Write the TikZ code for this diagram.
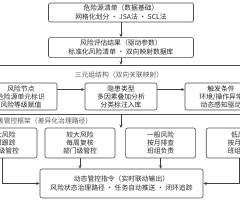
\documentclass[tikz,border=0pt]{standalone}
\usepackage{fontspec}
\setmainfont{Noto Sans CJK SC}
\usetikzlibrary{arrows.meta, positioning}

\begin{document}
\begin{tikzpicture}[
  x=1pt, y=-1pt,
  node distance=10pt,
  box/.style={rectangle, draw=black!70, rounded corners=2pt, line width=0.6pt, align=center, inner sep=0pt, text=black!85, font=\fontsize{6.8}{8.6}\selectfont},
  widebox/.style={box, minimum width=145pt, minimum height=19pt},
  tribox/.style={box, minimum width=72pt, minimum height=27pt, font=\fontsize{6.8}{8}\selectfont},
  lvlbox/.style={box, minimum width=70pt, minimum height=30pt, font=\fontsize{6.8}{8}\selectfont},
  group/.style={rectangle, draw=black!70, line width=0.6pt, inner sep=0pt},
  tag/.style={inner sep=0pt, text=black!65, font=\fontsize{6.8}{8}\selectfont},
  arrow/.style={-{Stealth[length=3.5pt, width=3pt]}, line width=0.6pt, draw=black!75}
]
\useasboundingbox (0,0) rectangle (240,200);
\clip (0,0) rectangle (240,200);

% input chain
\node[widebox] (source) at (121,12.5) {危险源清单（数据基础）\\网格化划分 • JSA法 • SCL法};
\node[widebox, below=15pt of source, minimum height=20pt] (assess) {风险评估结果（驱动参数）\\标准化风险清单 • 双向映射数据库};

% triplet structure
\node[group, minimum width=290pt, minimum height=49.5pt] (triad) at (120,89.75) {};
\node[tag] (triadtag) at (119,75) {三元组结构（双向关联映射）};
\node[tribox] (rnode) at (21,96.5) {风险节点\\危险源单元标识\\风险等级赋值};
\node[tribox] (hazard) at (121,96.5) {隐患类型\\多因素叠加分析\\分类标注入库};
\node[tribox] (trigger) at (221,96.5) {触发条件\\环境/操作异常\\动态感知驱动};

\draw[arrow] (source) -- (assess);
\draw[arrow] (assess) -- (assess |- triad.north);
\draw[arrow] ([yshift=7pt]rnode.east) -- ([yshift=7pt]hazard.west);
\draw[arrow] ([yshift=7pt]hazard.east) -- ([yshift=7pt]trigger.west);

% graded control framework
\node[tag, anchor=west] (lvltag) at (-10,120.5) {分级管控框架（差异化治理路径）};
\coordinate (lvltop) at (121,128);
\draw[arrow] (triad.south -| lvltop) -- (lvltop);

\node[lvlbox] (major) at (2,143) {重大风险\\实时跟踪\\公司级管控};
\node[lvlbox] (large) at (80,143) {较大风险\\每周复核\\部门级管控};
\node[lvlbox, right=of large] (general) {一般风险\\按月排查\\班组负责};
\node[lvlbox, right=of general] (low) {低风险\\按月抽查\\班组自控};

% output
\node[box, minimum width=163pt, minimum height=29pt, font=\fontsize{6.8}{9.6}\selectfont] (command) at (121.5,183.5) {动态管控指令（实时联动输出）\\风险状态治理路径 • 任务自动推送 • 闭环追踪};

\draw[arrow] (large) -- (large |- command.north);
\draw[arrow] (general) -- (general |- command.north);
\draw[arrow] (major) |- (command);
\draw[arrow] ([xshift=-2pt]low.south) |- (command);
\end{tikzpicture}
\end{document}
